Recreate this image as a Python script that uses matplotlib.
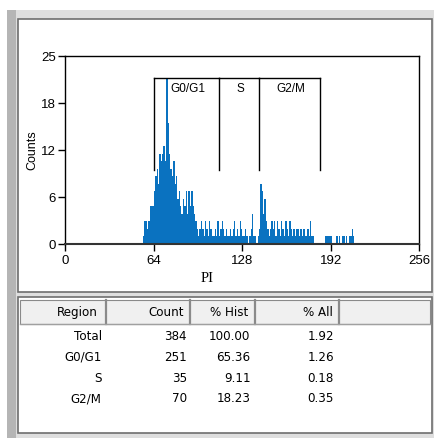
import numpy as np
import matplotlib
matplotlib.use("Agg")
import matplotlib.pyplot as plt
from matplotlib.patches import Rectangle

# ---------------- data ----------------
first_channel = 56
counts = [
    1, 3, 3, 2, 3, 5, 5, 5, 7, 9,            # 56-65
    10, 8, 12, 11, 12, 13, 11, 22, 16, 12,   # 66-75
    10, 9, 11, 8, 9, 6, 7, 5, 4, 6,          # 76-85
    5, 7, 4, 7, 5, 7, 5, 4, 3, 2,            # 86-95
    1, 2, 3, 2, 1, 3, 2, 1, 3, 2,            # 96-105
    1, 1, 2, 1, 3, 1, 2, 3, 2, 1,            # 106-115
    2, 1, 1, 2, 1, 2, 3, 1, 2, 1,            # 116-125
    3, 2, 1, 1, 2, 1, 0, 1, 2, 4,            # 126-135
    1, 1, 0, 1, 2, 8, 7, 4, 6, 3,            # 136-145
    2, 1, 2, 3, 2, 3, 1, 3, 2, 1,            # 146-155
    3, 2, 1, 3, 2, 1, 3, 2, 1, 2,            # 156-165
    1, 2, 2, 1, 2, 1, 2, 1, 1, 2,            # 166-175
    1, 3, 1, 1, 0, 0, 0, 0, 0, 0,            # 176-185
    0, 0, 1, 1, 1, 1, 1, 0, 0, 0,            # 186-195
    1, 0, 1, 0, 1, 1, 0, 1, 0, 1,            # 196-205
    1, 2, 1, 0,                              # 206-209
]
region_names = ["G0/G1", "S", "G2/M"]
region_starts = [64.5, 111.5, 140]
region_ends = [111.5, 140, 184]
marker_top = 22.1
marker_bottom = 9.8

xticks = [0, 64, 128, 192, 256]
yticks = [0, 6.25, 12.5, 18.75, 25]
ytick_labels = ["0", "6", "12", "18", "25"]

table_header = ["Region", "Count", "% Hist", "% All"]
table_region = ["Total", "G0/G1", "S", "G2/M"]
table_count = ["384", "251", "35", "70"]
table_pct_hist = ["100.00", "65.36", "9.11", "18.23"]
table_pct_all = ["1.92", "1.26", "0.18", "0.35"]

# ---------------- figure ----------------
W, H = 435, 439
fig = plt.figure(figsize=(W / 100, H / 100), dpi=100)
fig.patch.set_facecolor("white")


def fx(x):
    return x / W


def fy(y):
    return 1 - y / H


def prect(x0, y0, x1, y1, **kw):
    r = Rectangle((fx(x0), fy(y1)), fx(x1) - fx(x0), fy(y0) - fy(y1),
                  transform=fig.transFigure, zorder=-5, **kw)
    fig.patches.append(r)
    return r


def pline(x0, y0, x1, y1, **kw):
    fig.add_artist(plt.Line2D([fx(x0), fx(x1)], [fy(y0), fy(y1)],
                              transform=fig.transFigure, **kw))


# window frame
prect(7, 11, 436, 440, facecolor="#dedede", edgecolor="none")
prect(7, 11, 16, 440, facecolor="#b5b5b5", edgecolor="none")
prect(18, 20, 432, 293, facecolor="white", edgecolor="#6e6e6e", linewidth=1.2)
prect(18, 298, 432, 434, facecolor="white", edgecolor="#6e6e6e", linewidth=1.2)

# ---------------- histogram axes ----------------
ax_l, ax_r, ax_t, ax_b = 65.3, 419.3, 56.7, 245.0
ax = fig.add_axes([fx(ax_l), fy(ax_b), fx(ax_r) - fx(ax_l), fy(ax_t) - fy(ax_b)])
ax.set_facecolor("white")
ax.set_zorder(2)

edges = np.arange(first_channel, first_channel + len(counts) + 1)
ax.stairs(counts, edges, fill=True, color="#0a72c0", linewidth=0, zorder=2)

for s, e in zip(region_starts, region_ends):
    ax.plot([s, e], [marker_top, marker_top], color="black", lw=1, zorder=3)
    ax.plot([e, e], [marker_top, marker_bottom], color="black", lw=1, zorder=3)
ax.plot([region_starts[0], region_starts[0]], [marker_top, marker_bottom],
        color="black", lw=1, zorder=1)
for name, s, e in zip(region_names, region_starts, region_ends):
    ax.text((s + e) / 2 + 1, 20.7, name, ha="center", va="center",
            fontsize=8.5, family="Liberation Sans", zorder=4)

ax.set_xlim(0, 256)
ax.set_ylim(0, 25)
ax.set_xticks(xticks)
ax.set_xticklabels([str(t) for t in xticks])
ax.set_yticks(yticks)
ax.set_yticklabels(ytick_labels)
ax.tick_params(direction="out", length=5, width=1, pad=2, labelsize=9.5,
               colors="black")
for lab in ax.get_xticklabels() + ax.get_yticklabels():
    lab.set_family("Liberation Sans")
for sp in ax.spines.values():
    sp.set_linewidth(1)
    sp.set_color("black")
ax.spines["bottom"].set_color("#333333")
ax.spines["bottom"].set_linewidth(1.5)

fig.text(fx(32), fy(150), "Counts", rotation=90, ha="center", va="center",
         fontsize=9, family="Liberation Sans")
fig.text(fx(207), fy(279), "PI", ha="center", va="center",
         fontsize=10.5, family="Liberation Serif")

# ---------------- table ----------------
col_edges = [20.5, 106, 190, 255, 339, 430]
hdr_top, hdr_bot = 300.5, 325
prect(col_edges[0], hdr_top, col_edges[-1], hdr_bot, facecolor="#f0f0f0",
      edgecolor="#8a8a8a", linewidth=0.8)
for xe in col_edges[1:-1]:
    pline(xe, hdr_top, xe, hdr_bot, color="#8a8a8a", lw=1.6)
pline(col_edges[0], hdr_bot, col_edges[-1], hdr_bot, color="#a0a0a0", lw=1)

hdr_right = [98, 184, 248, 333]
for txt, xr in zip(table_header, hdr_right):
    fig.text(fx(xr), fy(313), txt, ha="right", va="center", fontsize=8.6,
             family="DejaVu Sans")

row_ys = [336.7, 357.5, 378.2, 398.6]
data_right = [101.7, 186.7, 250.5, 334]
cols = [table_region, table_count, table_pct_hist, table_pct_all]
for ci, col in enumerate(cols):
    for ri, val in enumerate(col):
        fig.text(fx(data_right[ci]), fy(row_ys[ri]), val, ha="right",
                 va="center", fontsize=8.6, family="DejaVu Sans")

fig.savefig("out.png", dpi=100)
